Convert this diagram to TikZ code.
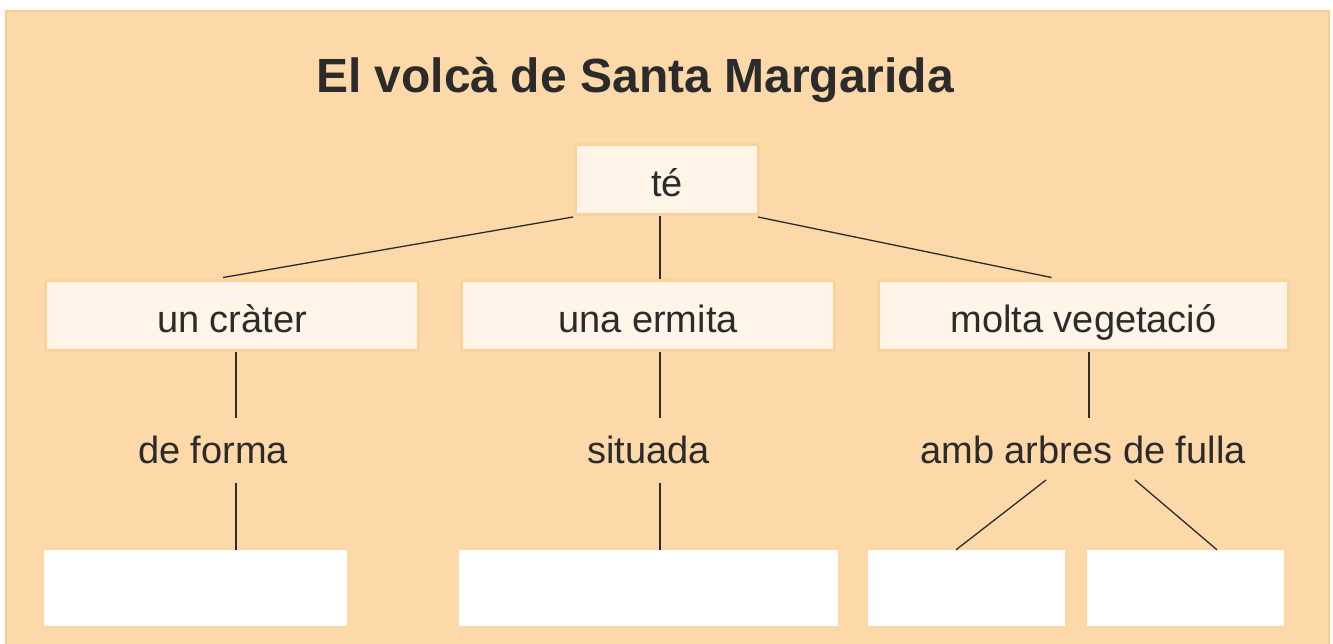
\documentclass[tikz,border=0pt]{standalone}
\usepackage{fontspec}
\setmainfont{Liberation Sans}
\definecolor{panel}{HTML}{FDD8A8}
\definecolor{panelborder}{HTML}{F9CB90}
\definecolor{boxfill}{HTML}{FEF5E8}
\definecolor{boxborder}{HTML}{FCD29B}
\definecolor{ink}{HTML}{2B2B2B}
\tikzset{
  lbox/.style={draw=boxborder, line width=3pt, fill=boxfill, inner sep=0pt,
    text=ink, font=\fontsize{38}{40}\selectfont, text height=40pt, text depth=7pt},
  wbox/.style={fill=white, draw=none, inner sep=0pt},
  lbl/.style={inner sep=0pt, text=ink, font=\fontsize{38}{40}\selectfont,
    minimum height=65pt, text height=30pt, text depth=5pt},
  conn/.style={draw=ink, line width=1.3pt}
}
\begin{document}
\begin{tikzpicture}[x=1pt,y=-1pt]
\useasboundingbox (0,0) rectangle (1333,643);
\fill[white] (0,0) rectangle (1333,643);
\draw[panelborder, line width=2pt, fill=panel] (6,11) rectangle (1329,660);

\node[anchor=base, text=ink, font=\bfseries\fontsize{48}{50}\selectfont] (title) at (635,92) {El volcà de Santa Margarida};

\node[lbox, minimum width=183pt, minimum height=70pt] (te) at (667,179.5) {té};

\node[lbox, minimum width=373pt, minimum height=70pt] (crater) at (232,315.5) {un cràter};
\node[lbox, minimum width=373pt, minimum height=70pt] (ermita) at (648,315.5) {una ermita};
\node[lbox, minimum width=410pt, minimum height=70pt] (veg) at (1083.5,315.5) {molta vegetació};

\node[lbl] (forma) at (213,450.5) {de forma};
\node[lbl] (situada) at (648.5,450.5) {situada};
\node[lbl] (arbres) at (1083,450.5) {amb arbres de fulla};

\node[wbox, minimum width=303pt, minimum height=76pt] (w1) at (195.5,588) {};
\node[wbox, minimum width=379pt, minimum height=76pt] (w2) at (648.5,588) {};
\node[wbox, minimum width=197pt, minimum height=76pt] (w3) at (966.5,588) {};
\node[wbox, minimum width=197pt, minimum height=76pt] (w4) at (1185.5,588) {};

\coordinate (c1) at (236,0);
\coordinate (c2) at (660,0);
\coordinate (c3) at (1089,0);

\draw[conn] ([xshift=-1pt,yshift=-1pt]te.south west) -- ([xshift=-9pt,yshift=1.5pt]crater.north);
\draw[conn] (c2 |- te.south) -- (c2 |- ermita.north);
\draw[conn] ([xshift=-2pt,yshift=-1pt]te.south east) -- ([xshift=-32pt,yshift=1.5pt]veg.north);

\draw[conn] (c1 |- crater.south) -- (c1 |- forma.north);
\draw[conn] (c1 |- forma.south) -- (c1 |- w1.north);
\draw[conn] (c2 |- ermita.south) -- (c2 |- situada.north);
\draw[conn] (c2 |- situada.south) -- (c2 |- w2.north);
\draw[conn] (c3 |- veg.south) -- (c3 |- arbres.north);

\coordinate (a1) at (1046,480);
\coordinate (a2) at (1135,480);
\draw[conn] (a1) -- (w3.north -| 956,0);
\draw[conn] (a2) -- (w4.north -| 1217,0);
\end{tikzpicture}
\end{document}
